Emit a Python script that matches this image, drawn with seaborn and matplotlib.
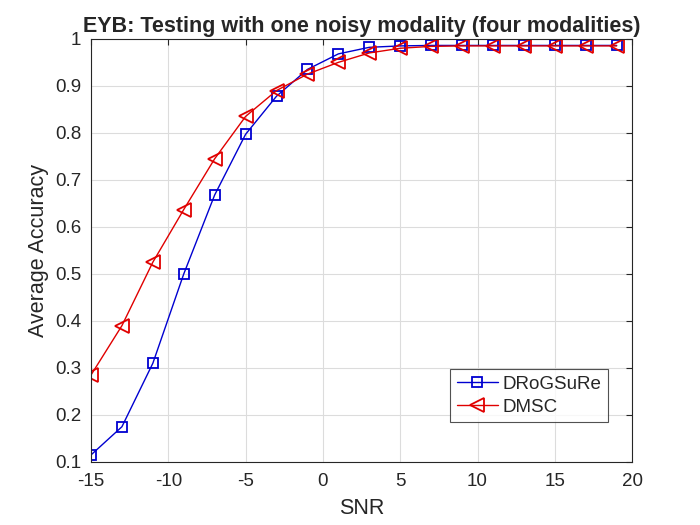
import matplotlib
matplotlib.use("Agg")
import matplotlib.pyplot as plt
import seaborn as sns
import pandas as pd

snr = [-15, -13, -11, -9, -7, -5, -3, -1, 1, 3, 5, 7, 9, 11, 13, 15, 17, 19]
drogsure = [0.115, 0.175, 0.31, 0.50, 0.668, 0.797, 0.878, 0.935, 0.968, 0.982,
            0.985, 0.986, 0.986, 0.986, 0.986, 0.986, 0.986, 0.986]
dmsc = [0.285, 0.39, 0.525, 0.637, 0.745, 0.835, 0.89, 0.925, 0.95, 0.97,
        0.98, 0.984, 0.985, 0.985, 0.985, 0.985, 0.985, 0.985]
methods = ["DRoGSuRe", "DMSC"]
colors = {"DRoGSuRe": "#0000d0", "DMSC": "#e00000"}
markers = {"DRoGSuRe": "s", "DMSC": "<"}

df = pd.DataFrame({
    "SNR": snr * 2,
    "acc": drogsure + dmsc,
    "method": [methods[0]] * len(snr) + [methods[1]] * len(snr),
})

sns.set_style("white")
plt.rcParams["font.family"] = ["Liberation Sans", "DejaVu Sans"]
plt.rcParams["axes.unicode_minus"] = False

fig = plt.figure(figsize=(7, 5.25), dpi=100)
ax = fig.add_axes([0.13, 0.12, 0.773, 0.806])

for m in methods:
    sub = df[df["method"] == m]
    sns.lineplot(data=sub, x="SNR", y="acc", ax=ax, color=colors[m],
                 marker=markers[m], markersize=6.5 if m == "DRoGSuRe" else 9.5,
                 markerfacecolor="none", markeredgecolor=colors[m],
                 markeredgewidth=1.3, linewidth=1.0, label=m)

ax.set_xlim(-15, 20)
ax.set_ylim(0.1, 1.0)
ax.set_xticks(range(-15, 21, 5))
ax.set_yticks([0.1, 0.2, 0.3, 0.4, 0.5, 0.6, 0.7, 0.8, 0.9, 1.0])
ax.set_yticklabels(["0.1", "0.2", "0.3", "0.4", "0.5", "0.6", "0.7", "0.8", "0.9", "1"])
ax.grid(True, color="#dcdcdc", linewidth=0.8)
ax.tick_params(direction="in", top=True, right=True, labelsize=13.5, colors="#262626",
               length=4, width=0.8)
ax.tick_params(axis="x", pad=8)
ax.tick_params(axis="y", pad=7)
for s in ax.spines.values():
    s.set_color("#262626")
    s.set_linewidth(0.8)
    s.set_visible(True)

ax.set_xlabel("SNR", fontsize=15.5, color="#262626", labelpad=6)
ax.set_ylabel("Average Accuracy", fontsize=15.5, color="#262626", labelpad=4)
ax.set_title("EYB: Testing with one noisy modality (four modalities)",
             fontsize=15.5, fontweight="bold", pad=5)

leg = ax.legend(loc="lower left", bbox_to_anchor=(0.664, 0.094), fontsize=13.5,
                frameon=True, fancybox=False, edgecolor="#262626",
                borderpad=0.35, handlelength=2.2, handletextpad=0.25,
                labelspacing=0.3, borderaxespad=0)
leg.get_frame().set_linewidth(0.8)

fig.savefig("out.png", dpi=100)
